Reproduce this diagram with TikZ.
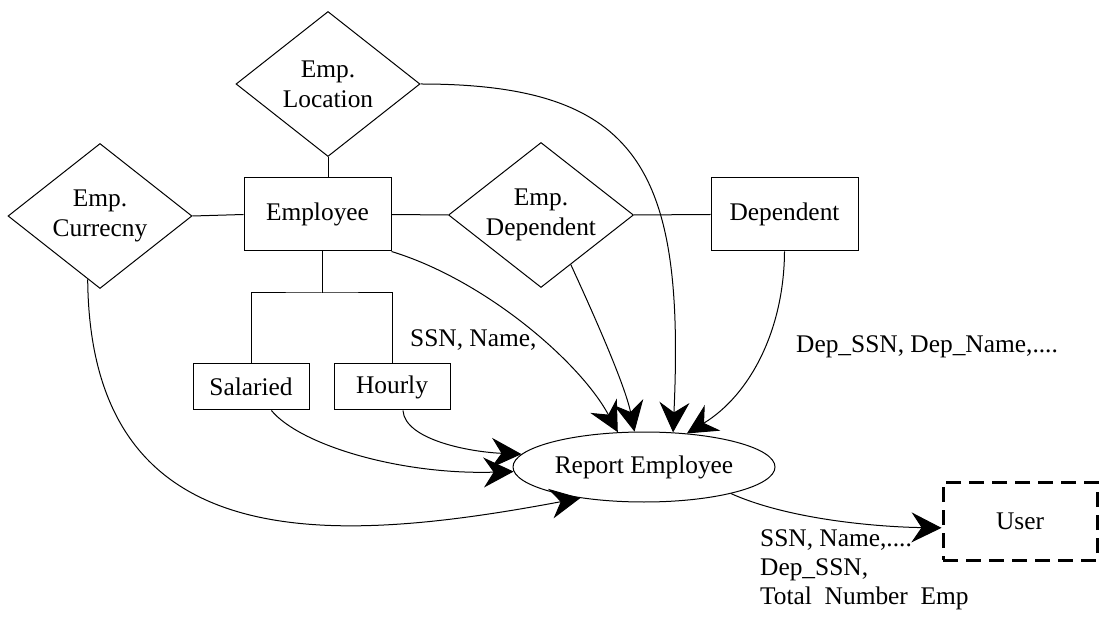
\documentclass[tikz,border=0pt]{standalone}
\usepackage{fontspec}
\setmainfont{Liberation Serif}
\usetikzlibrary{positioning,shapes.geometric,arrows.meta}

\begin{document}
\begin{tikzpicture}[x=0.5pt, y=-0.5pt, line width=0.5pt,
  font=\fontsize{12.7}{15}\selectfont,
  entity/.style={draw, rectangle, inner sep=0pt, minimum width=73.5pt, minimum height=36.5pt},
  subtype/.style={draw, rectangle, inner sep=0pt, minimum width=58pt, minimum height=23pt},
  relation/.style={draw, diamond, aspect=1.27, inner sep=0pt, align=center, minimum width=92pt, minimum height=72.5pt},
  flow/.style={-{Stealth[length=15pt, width=15pt, inset=5pt]}}]
  \useasboundingbox (0,0) rectangle (1101,619);

  \node[relation] (loc) at (328,84) {Emp.\\Location};
  \node[relation] (cur) at (100,216) {Emp.\\Currecny};
  \node[entity] (emp) at (317.5,214.5) {Employee};
  \node[relation, minimum width=92.5pt] (empdep) at (541,215) {Emp.\\Dependent};
  \node[entity] (dep) at (784.5,214.5) {Dependent};
  \node[subtype] (sal) at (251,387) {Salaried};
  \node[subtype, right=12pt of sal] (hour) {Hourly};
  \node[draw, ellipse, inner sep=0pt, minimum width=131pt, minimum height=35pt] (rep) at (644,467) {Report Employee};
  \node[draw, rectangle, dash pattern=on 7.5pt off 4pt, line width=1.5pt, inner sep=0pt,
        minimum width=77pt, minimum height=39pt] (user) at (1020,521) {User};

  \node[anchor=west] (lblemp) at (403,340) {SSN, Name,};
  \node[anchor=west] (lbldep) at (789,347) {Dep\_SSN, Dep\_Name,....};
  \node[anchor=west, align=left, font=\fontsize{12.7}{14.5}\selectfont] (lblout) at (753,570)
    {SSN, Name,....\\Dep\_SSN,\\Total\ \ Number\ \ Emp};

  \draw (loc.south) -- (loc.south |- emp.north);
  \draw (cur.east) -- (emp.west);
  \draw (emp.east) -- (empdep.west);
  \draw (empdep.east) -- (dep.west);
  \coordinate (fork) at (322,293);
  \draw (fork |- emp.south) -- (fork);
  \draw (sal.north) |- (fork) -| (hour.north);

  \draw[flow] (emp.south east) .. controls (485,280) and (580,362) .. (rep.127);
  \draw[flow] (empdep.-59) .. controls (594,315) and (625,385) .. (rep.105);
  \draw[flow] (loc.east) .. controls (640,84) and (685,170) .. (rep.50);
  \draw[flow] (dep.south) .. controls (784,330) and (750,395) .. (rep.38);
  \draw[flow] (hour.-65) .. controls (405,440) and (470,452) .. (rep.174);
  \draw[flow] (sal.-49) .. controls (300,445) and (400,475) .. (rep.182);
  \draw[flow] (cur.-101) .. controls (90,560) and (330,545) .. (rep.206);
  \draw[flow] (rep.-17) .. controls (790,520) and (880,527) .. (user.-175);
\end{tikzpicture}
\end{document}
